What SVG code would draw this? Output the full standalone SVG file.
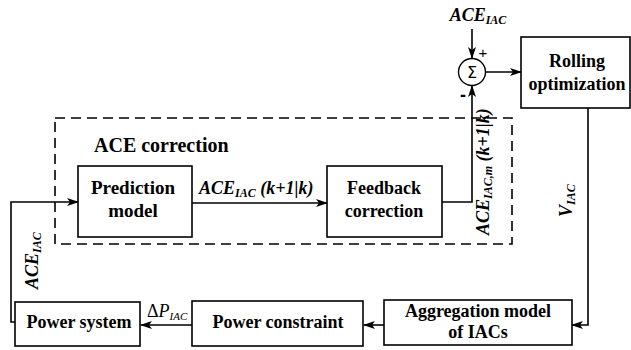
<svg xmlns="http://www.w3.org/2000/svg" width="631" height="350" viewBox="0 0 631 350">
<defs>
<style>
.box{fill:#fff;stroke:#000;stroke-width:1.6}
.ln{fill:none;stroke:#000;stroke-width:1.6}
.t{font-family:"Liberation Serif","Times New Roman",serif;font-weight:bold;font-size:18px;fill:#000;text-anchor:middle}
.bi{font-family:"Liberation Serif","Times New Roman",serif;font-weight:bold;font-style:italic;font-size:18px;fill:#000}
.sub{font-size:12px}
</style>
<marker id="ah" markerWidth="12" markerHeight="8" refX="11" refY="4" orient="auto" markerUnits="userSpaceOnUse">
<path d="M0,0 L12,4 L0,8 L3,4 Z" fill="#000"/>
</marker>
</defs>
<rect width="631" height="350" fill="#fff"/>

<g id="ace-correction-frame">
<rect x="55" y="118" width="457" height="126" fill="none" stroke="#000" stroke-width="1.6" stroke-dasharray="10,6"/>
<text x="94" y="152" class="t" style="text-anchor:start;font-size:20px">ACE correction</text>
</g>

<g id="connectors">
<path class="ln" d="M472,29 L472,58" marker-end="url(#ah)"/>
<path class="ln" d="M486,72 L521,72" marker-end="url(#ah)"/>
<path class="ln" d="M442,202 L472,202 L472,86" marker-end="url(#ah)"/>
<path class="ln" d="M192,203 L327,203" marker-end="url(#ah)"/>
<path class="ln" d="M588,108 L588,325 L572,325" marker-end="url(#ah)"/>
<path class="ln" d="M384,325 L364,325" marker-end="url(#ah)"/>
<path class="ln" d="M192,325 L141,325" marker-end="url(#ah)"/>
<path class="ln" d="M15,322 L11,322 L11,202 L78,202" marker-end="url(#ah)"/>
<text x="478" y="21" class="bi" text-anchor="middle">ACE<tspan class="sub" dy="3">IAC</tspan></text>
<text x="199" y="194" class="bi">ACE<tspan class="sub" dy="3">IAC</tspan><tspan dy="-3"> (k+1|k)</tspan></text>
<text class="bi" transform="translate(489,235) rotate(-90)">ACE<tspan class="sub" dy="3">IAC,m</tspan><tspan dy="-3"> (k+1|k)</tspan></text>
<text class="bi" transform="translate(38,289) rotate(-90)">ACE<tspan class="sub" dy="3">IAC</tspan></text>
<text class="bi" transform="translate(572,217) rotate(-90)">V<tspan class="sub" dy="3">IAC</tspan></text>
<text x="147" y="317" style="font-family:'Liberation Serif','Times New Roman',serif;font-size:18px">Δ<tspan font-style="italic">P</tspan><tspan font-style="italic" font-size="11px" dy="3">IAC</tspan></text>
<text x="483" y="58" style="font-family:'Liberation Sans',Arial,sans-serif;font-size:15px" text-anchor="middle">+</text>
<text x="463" y="101" style="font-family:'Liberation Sans',Arial,sans-serif;font-size:18px;font-weight:bold" text-anchor="middle">-</text>
</g>

<g id="sum">
<circle cx="472" cy="72" r="13.5" fill="#fff" stroke="#000" stroke-width="1.4"/>
<text x="472" y="78" style="font-family:'DejaVu Sans',sans-serif;font-size:16px" text-anchor="middle">Σ</text>
</g>

<g id="rolling-optimization">
<rect class="box" x="521" y="37" width="109" height="71"/>
<text x="577" y="67" class="t">Rolling</text>
<text x="577" y="90" class="t">optimization</text>
</g>

<g id="prediction-model">
<rect class="box" x="78" y="166" width="114" height="71"/>
<text x="133" y="194" class="t" style="font-size:19px">Prediction</text>
<text x="133" y="217" class="t" style="font-size:19px">model</text>
</g>

<g id="feedback-correction">
<rect class="box" x="327" y="166" width="115" height="71"/>
<text x="384" y="194" class="t">Feedback</text>
<text x="384" y="217" class="t">correction</text>
</g>

<g id="aggregation-model">
<rect class="box" x="384" y="300" width="188" height="45"/>
<text x="478" y="317" class="t">Aggregation model</text>
<text x="478" y="338" class="t">of IACs</text>
</g>

<g id="power-constraint">
<rect class="box" x="192" y="301" width="171" height="45"/>
<text x="278" y="328" class="t">Power constraint</text>
</g>

<g id="power-system">
<rect class="box" x="15" y="302" width="125" height="44"/>
<text x="79" y="328" class="t">Power system</text>
</g>
</svg>
